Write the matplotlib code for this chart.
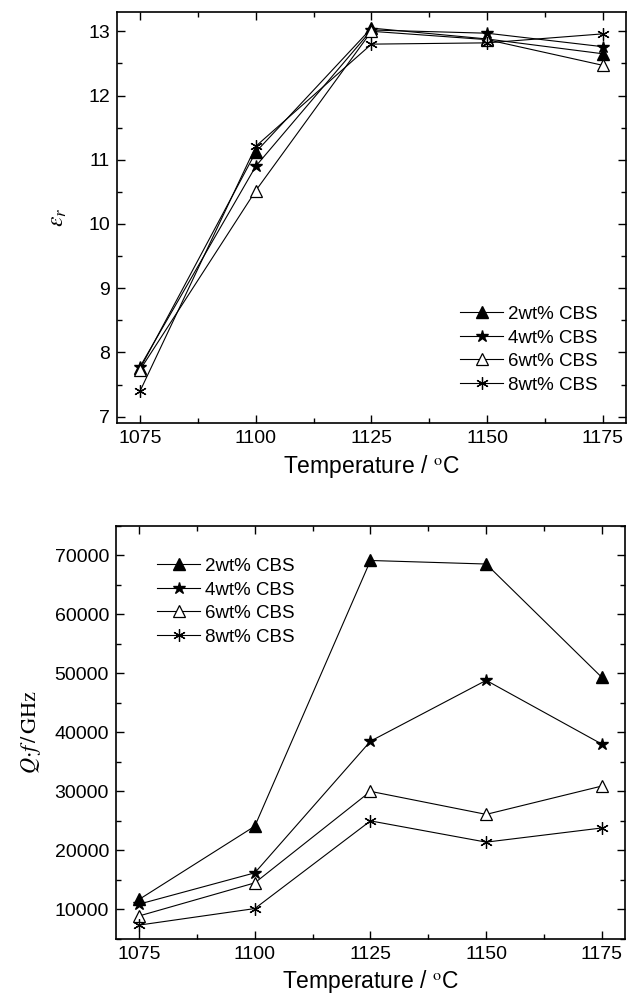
import matplotlib
matplotlib.use("Agg")
import matplotlib.pyplot as plt
from matplotlib.ticker import MultipleLocator

plt.rcParams['font.family'] = ['Liberation Sans', 'DejaVu Sans']
plt.rcParams['mathtext.fontset'] = 'stix'

temps = [1075, 1100, 1125, 1150, 1175]
labels = ['2wt% CBS', '4wt% CBS', '6wt% CBS', '8wt% CBS']

# dielectric constant
er_2 = [7.75, 11.12, 13.05, 12.88, 12.65]
er_4 = [7.78, 10.90, 13.02, 12.97, 12.76]
er_6 = [7.73, 10.52, 13.00, 12.87, 12.47]
er_8 = [7.40, 11.21, 12.80, 12.82, 12.96]

# Q*f values (GHz)
qf_2 = [11700, 24100, 69100, 68500, 49300]
qf_4 = [10900, 16200, 38500, 48800, 38000]
qf_6 = [8900, 14500, 30000, 26100, 30900]
qf_8 = [7350, 10150, 25000, 21400, 23800]

styles = [
    dict(marker='^', mfc='black', mec='black', ms=8),
    dict(marker='*', mfc='black', mec='black', ms=9),
    dict(marker='^', mfc='white', mec='black', ms=8, mew=0.9),
    dict(marker=(6, 2, 0), mfc='black', mec='black', ms=9, mew=0.9),
]

fig = plt.figure(figsize=(6.28, 10.02), dpi=100)
ax1 = fig.add_axes([0.1863, 0.5778, 0.8105, 0.4102])
ax2 = fig.add_axes([0.1847, 0.0629, 0.8105, 0.4125])

for ax, series in ((ax1, [er_2, er_4, er_6, er_8]), (ax2, [qf_2, qf_4, qf_6, qf_8])):
    for s, lab, st in zip(series, labels, styles):
        ax.plot(temps, s, color='black', lw=0.8, label=lab, **st)
    ax.set_xlim(1070, 1180)
    ax.set_xticks(temps)
    ax.xaxis.set_minor_locator(MultipleLocator(12.5))
    ax.tick_params(which='both', direction='in', top=True, right=True,
                   labeltop=False, labelright=False, width=1.0)
    ax.tick_params(which='major', length=6, labelsize=14, pad=5)
    ax.tick_params(which='minor', length=3.5)
    for sp in ax.spines.values():
        sp.set_linewidth(1.2)
    ax.set_xlabel('Temperature / $^{\\mathrm{o}}$C', fontsize=16.5, labelpad=4)

ax1.set_ylim(6.9, 13.3)
ax1.set_yticks([7, 8, 9, 10, 11, 12, 13])
ax1.yaxis.set_minor_locator(MultipleLocator(0.5))
ax1.set_ylabel(r'$\varepsilon_r$', fontsize=17, labelpad=14)

ax2.set_ylim(5000, 75000)
ax2.set_yticks([10000, 20000, 30000, 40000, 50000, 60000, 70000])
ax2.yaxis.set_minor_locator(MultipleLocator(5000))
ax2.set_ylabel(r'$Q{\cdot}f\,/\,\mathrm{GHz}$', fontsize=16, labelpad=8)

leg_kw = dict(frameon=False, fontsize=13.5, handlelength=2.3, handletextpad=0.27,
              labelspacing=0.34, borderaxespad=0, borderpad=0, loc='upper left')
ax1.legend(bbox_to_anchor=(0.674, 0.285), **leg_kw)
ax2.legend(bbox_to_anchor=(0.0806, 0.922), **leg_kw)

fig.savefig('out.png', dpi=100)
